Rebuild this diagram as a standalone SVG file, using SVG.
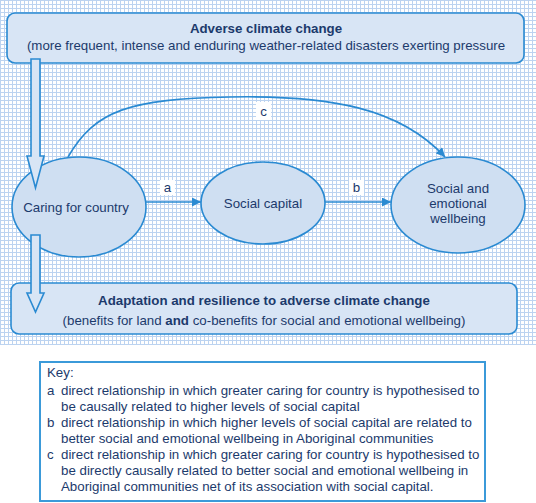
<svg xmlns="http://www.w3.org/2000/svg" width="536" height="503" viewBox="0 0 536 503">
<style>
text{font-family:"Liberation Sans",Arial,sans-serif;fill:#1c3a6c}
.box{fill:#d8e5f5;stroke:#2a8ad2;stroke-width:1.6}
.ell{fill:#cfdff2;stroke:#2a8ad2;stroke-width:1.6}
.con{fill:none;stroke:#2a8ad2;stroke-width:1.6}
.wide{fill:#d8e5f5;stroke:#2a8ad2;stroke-width:1.6;stroke-linejoin:miter}
.lbl{fill:#fff}
.t14{font-size:13.3px}
.t13{font-size:13.3px}
.b{font-weight:bold}
</style>
<defs>
<pattern id="grid" width="4" height="4" patternUnits="userSpaceOnUse">
<rect width="4" height="4" fill="#ffffff"/>
<path d="M0,0.5H4M0.5,0V4" stroke="#bcd3f0" stroke-width="1"/>
</pattern>
<marker id="ah" viewBox="0 0 10 10" refX="10" refY="5" markerWidth="10" markerHeight="9" markerUnits="userSpaceOnUse" orient="auto">
<path d="M0,0L10,5L0,10z" fill="#2a8ad2"/>
</marker>
</defs>
<rect x="0" y="0" width="536" height="345" fill="url(#grid)"/>

<g id="top-box">
<rect class="box" x="7" y="13" width="517" height="50" rx="8"/>
<text class="t14 b" x="266" y="33" text-anchor="middle">Adverse climate change</text>
<text class="t14" x="266" y="50" text-anchor="middle">(more frequent, intense and enduring weather-related disasters exerting pressure</text>
</g>

<g id="bottom-box">
<rect class="box" x="11" y="283" width="506" height="51" rx="8"/>
<text class="t14 b" x="264" y="305" text-anchor="middle">Adaptation and resilience to adverse climate change</text>
<text class="t14" x="264" y="325" text-anchor="middle">(benefits for land <tspan class="b">and</tspan> co-benefits for social and emotional wellbeing)</text>
</g>

<g id="caring">
<ellipse class="ell" cx="79" cy="207" rx="67" ry="50"/>
<text class="t14" x="76" y="212" text-anchor="middle">Caring for country</text>
</g>

<g id="social-capital">
<ellipse class="ell" cx="263" cy="203" rx="62" ry="41"/>
<text class="t14" x="263" y="208" text-anchor="middle">Social capital</text>
</g>

<g id="wellbeing">
<ellipse class="ell" cx="458" cy="205" rx="67" ry="48"/>
<text class="t14" x="458" y="193" text-anchor="middle">Social and</text>
<text class="t14" x="458" y="208" text-anchor="middle">emotional</text>
<text class="t14" x="458" y="223" text-anchor="middle">wellbeing</text>
</g>

<g id="connectors">
<path class="con" d="M146,202H201" marker-end="url(#ah)"/>
<path class="con" d="M325,202H391" marker-end="url(#ah)"/>
<path class="con" d="M68,157C95,110 130,99 230,97C330,95 400,108 445,157" marker-end="url(#ah)"/>
<rect class="lbl" x="160" y="180" width="15" height="15"/>
<text class="t13" x="167.5" y="192" text-anchor="middle">a</text>
<rect class="lbl" x="349" y="180" width="15" height="15"/>
<text class="t13" x="356.5" y="192" text-anchor="middle">b</text>
<rect class="lbl" x="256" y="102" width="15" height="18"/>
<text class="t13" x="263.5" y="116" text-anchor="middle">c</text>
<path class="wide" d="M31,59H40V156H44L35.5,188L27,156H31Z"/>
<path class="wide" d="M31,235H40V293H44L35.5,312L27,293H31Z"/>
</g>

<g id="key">
<rect x="40" y="362" width="445" height="139" fill="#fff" stroke="#3b9ad9" stroke-width="2"/>
<text class="t13" x="47" y="377">Key:</text>
<text class="t13" x="47" y="395">a</text>
<text class="t13" x="61" y="395">direct relationship in which greater caring for country is hypothesised to</text>
<text class="t13" x="61" y="411">be causally related to higher levels of social capital</text>
<text class="t13" x="47" y="427">b</text>
<text class="t13" x="61" y="427">direct relationship in which higher levels of social capital are related to</text>
<text class="t13" x="61" y="443">better social and emotional wellbeing in Aboriginal communities</text>
<text class="t13" x="47" y="459">c</text>
<text class="t13" x="61" y="459">direct relationship in which greater caring for country is hypothesised to</text>
<text class="t13" x="61" y="475">be directly causally related to better social and emotional wellbeing in</text>
<text class="t13" x="61" y="491">Aboriginal communities net of its association with social capital.</text>
</g>
</svg>
